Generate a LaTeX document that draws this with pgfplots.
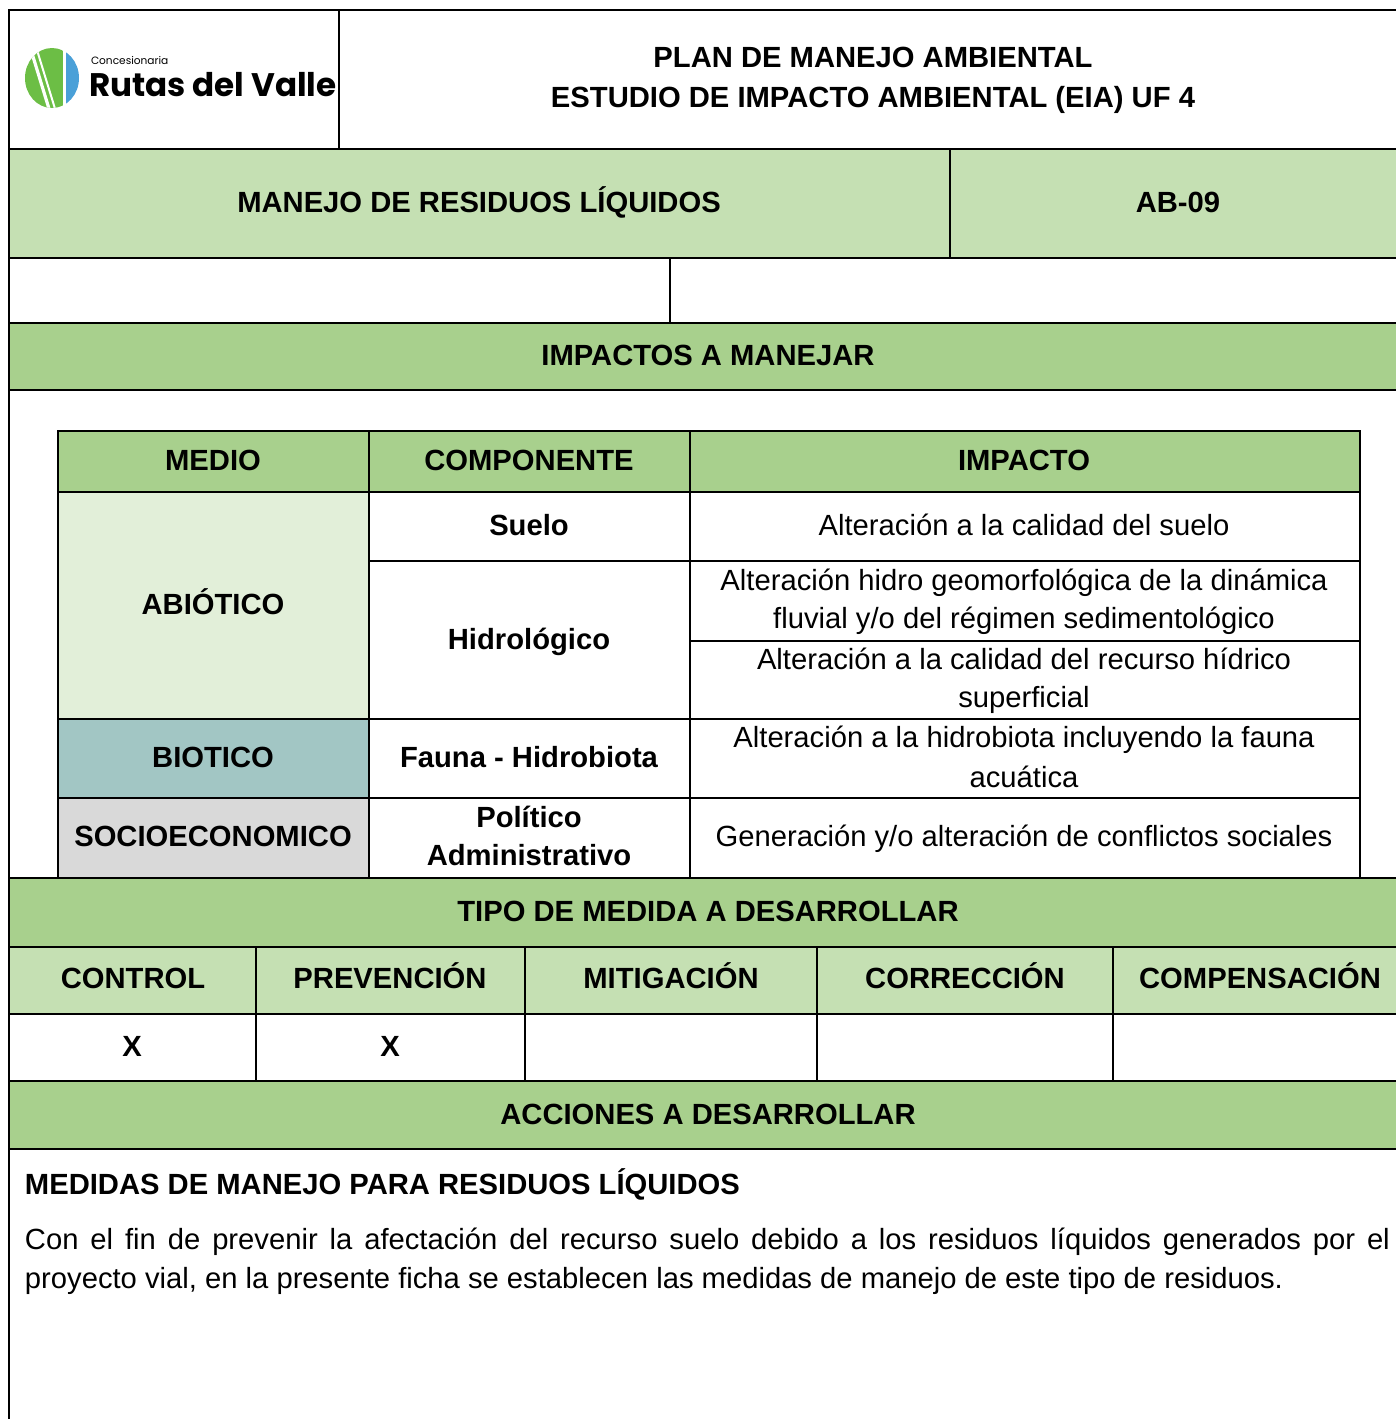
\documentclass[border=0pt]{standalone}
\usepackage{pgfplots}
\pgfplotsset{compat=1.18}
\usepackage{fontspec}
\setmainfont{Liberation Sans}
\newfontfamily\logofont{Poppins}
\definecolor{gdark}{HTML}{A8D08D}
\definecolor{glight}{HTML}{C5E0B3}
\definecolor{gpale}{HTML}{E2EFD9}
\definecolor{teal}{HTML}{A2C6C4}
\definecolor{greyc}{HTML}{D9D9D9}
\definecolor{logogreen}{HTML}{6CBE45}
\definecolor{logoblue}{HTML}{4AA0D8}
\newcommand\fs{\fontsize{14.6}{19}\selectfont}
\tikzset{tx/.style={inner sep=0pt, outer sep=0pt, font=\fs, anchor=base},
         tb/.style={inner sep=0pt, outer sep=0pt, font=\fs\bfseries, anchor=base}}
\begin{document}
\begin{tikzpicture}
\begin{axis}[x=0.5pt, y=0.5pt, y dir=reverse, xmin=0, xmax=1396, ymin=0, ymax=1419,
  hide axis, clip=true, scale only axis]
\fill[white] (axis cs:0,0) rectangle (axis cs:1396,1419);
% fills
\fill[glight] (axis cs:9,149) rectangle (axis cs:1396,258);
\fill[gdark] (axis cs:9,323) rectangle (axis cs:1396,390);
\fill[gdark] (axis cs:58,431) rectangle (axis cs:1360,492);
\fill[gpale] (axis cs:58,492) rectangle (axis cs:369,719);
\fill[teal] (axis cs:58,719) rectangle (axis cs:369,798);
\fill[greyc] (axis cs:58,798) rectangle (axis cs:369,877);
\fill[gdark] (axis cs:9,878) rectangle (axis cs:1396,947);
\fill[glight] (axis cs:9,947) rectangle (axis cs:1396,1014);
\fill[gdark] (axis cs:9,1081) rectangle (axis cs:1396,1149);
% outer lines
\draw[line width=1pt] (axis cs:9,1419) -- (axis cs:9,10) -- (axis cs:1396,10);
\draw[line width=1pt] (axis cs:9,149) -- (axis cs:1396,149);
\draw[line width=1pt] (axis cs:9,258) -- (axis cs:1396,258);
\draw[line width=1pt] (axis cs:9,323) -- (axis cs:1396,323);
\draw[line width=1pt] (axis cs:9,390) -- (axis cs:1396,390);
\draw[line width=1pt] (axis cs:9,947) -- (axis cs:1396,947);
\draw[line width=1pt] (axis cs:9,1014) -- (axis cs:1396,1014);
\draw[line width=1pt] (axis cs:9,1081) -- (axis cs:1396,1081);
\draw[line width=1pt] (axis cs:9,1149) -- (axis cs:1396,1149);
\draw[line width=1.4pt] (axis cs:9,878) -- (axis cs:1396,878);
\draw[line width=1pt] (axis cs:339,10) -- (axis cs:339,149);
\draw[line width=1pt] (axis cs:950,149) -- (axis cs:950,258);
\draw[line width=1pt] (axis cs:670,258) -- (axis cs:670,323);
\draw[line width=1pt] (axis cs:256,947) -- (axis cs:256,1081);
\draw[line width=1pt] (axis cs:525,947) -- (axis cs:525,1081);
\draw[line width=1pt] (axis cs:817,947) -- (axis cs:817,1081);
\draw[line width=1pt] (axis cs:1113,947) -- (axis cs:1113,1081);
% inner table
\draw[line width=1pt] (axis cs:58,877) -- (axis cs:58,431) -- (axis cs:1360,431) -- (axis cs:1360,877);
\draw[line width=1pt] (axis cs:58,492) -- (axis cs:1360,492);
\draw[line width=1pt] (axis cs:369,561) -- (axis cs:1360,561);
\draw[line width=1pt] (axis cs:690,641) -- (axis cs:1360,641);
\draw[line width=1pt] (axis cs:58,719) -- (axis cs:1360,719);
\draw[line width=1pt] (axis cs:58,798) -- (axis cs:1360,798);
\draw[line width=1pt] (axis cs:369,431) -- (axis cs:369,877);
\draw[line width=1pt] (axis cs:690,431) -- (axis cs:690,877);
% logo
\begin{scope}
\clip (axis cs:52,78) ellipse[x radius=13.5pt, y radius=15pt];
\fill[logogreen] (axis cs:20,40) rectangle (axis cs:63,120);
\fill[logoblue] (axis cs:66,40) rectangle (axis cs:90,120);
\draw[white, line width=1.6pt] (axis cs:31,50) -- (axis cs:50,112);
\draw[white, line width=1pt] (axis cs:37,50) -- (axis cs:56,112);
\end{scope}
\node[tx, anchor=base west, font=\logofont\fontsize{5.3}{6}\selectfont] at (axis cs:91,64) {Concesionaria};
\node[tx, anchor=base west, font=\logofont\bfseries\fontsize{16.3}{20}\selectfont] at (axis cs:89,96) {Rutas del Valle};
% texts
\node[tb] at (axis cs:873,67) {PLAN DE MANEJO AMBIENTAL};
\node[tb] at (axis cs:873,107) {ESTUDIO DE IMPACTO AMBIENTAL (EIA) UF 4};
\node[tb] at (axis cs:479,212) {MANEJO DE RESIDUOS LÍQUIDOS};
\node[tb] at (axis cs:1178,212) {AB-09};
\node[tb] at (axis cs:708,365) {IMPACTOS A MANEJAR};
\node[tb] at (axis cs:213,470) {MEDIO};
\node[tb] at (axis cs:529,470) {COMPONENTE};
\node[tb] at (axis cs:1024,470) {IMPACTO};
\node[tb] at (axis cs:213,614) {ABIÓTICO};
\node[tb] at (axis cs:529,535) {Suelo};
\node[tx] at (axis cs:1024,535) {Alteración a la calidad del suelo};
\node[tb] at (axis cs:529,649) {Hidrológico};
\node[tx] at (axis cs:1024,590) {Alteración hidro geomorfológica de la dinámica};
\node[tx] at (axis cs:1024,628) {fluvial y/o del régimen sedimentológico};
\node[tx] at (axis cs:1024,669) {Alteración a la calidad del recurso hídrico};
\node[tx] at (axis cs:1024,707) {superficial};
\node[tb] at (axis cs:213,767) {BIOTICO};
\node[tb] at (axis cs:529,767) {Fauna - Hidrobiota};
\node[tx] at (axis cs:1024,747) {Alteración a la hidrobiota incluyendo la fauna};
\node[tx] at (axis cs:1024,787) {acuática};
\node[tb] at (axis cs:213,846) {SOCIOECONOMICO};
\node[tb] at (axis cs:529,827) {Político};
\node[tb] at (axis cs:529,865) {Administrativo};
\node[tx] at (axis cs:1024,846) {Generación y/o alteración de conflictos sociales};
\node[tb] at (axis cs:708,921) {TIPO DE MEDIDA A DESARROLLAR};
\node[tb] at (axis cs:133,988) {CONTROL};
\node[tb] at (axis cs:390,988) {PREVENCIÓN};
\node[tb] at (axis cs:671,988) {MITIGACIÓN};
\node[tb] at (axis cs:965,988) {CORRECCIÓN};
\node[tb] at (axis cs:1260,988) {COMPENSACIÓN};
\node[tb] at (axis cs:132,1056) {X};
\node[tb] at (axis cs:390,1056) {X};
\node[tb] at (axis cs:708,1124) {ACCIONES A DESARROLLAR};
\node[tb, anchor=base west] at (axis cs:25,1194) {MEDIDAS DE MANEJO PARA RESIDUOS LÍQUIDOS};
\node[tx, anchor=base west] at (axis cs:25,1249) {\makebox[682.5pt][s]{Con el fin de prevenir la afectación del recurso suelo debido a los residuos líquidos generados por el}};
\node[tx, anchor=base west] at (axis cs:25,1288) {proyecto vial, en la presente ficha se establecen las medidas de manejo de este tipo de residuos.};
\end{axis}
\end{tikzpicture}
\end{document}
